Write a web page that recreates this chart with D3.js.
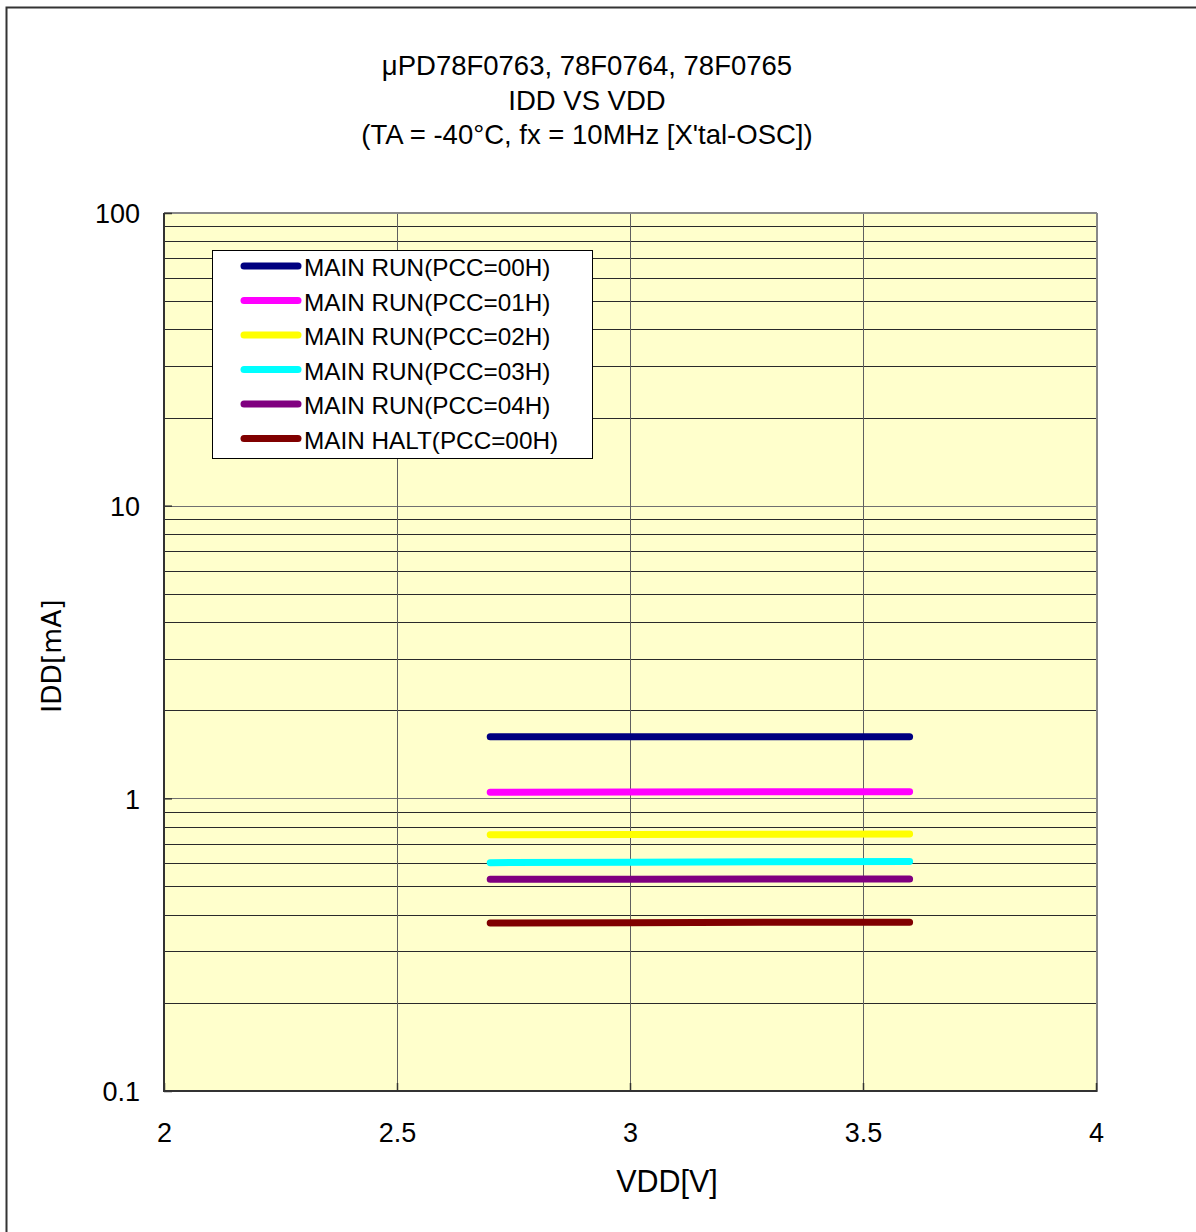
<!DOCTYPE html>
<html><head><meta charset="utf-8">
<script src="https://cdn.jsdelivr.net/npm/d3@7"></script>
<style>html,body{margin:0;padding:0;background:#fff;overflow:hidden}</style>
</head><body>
<script>
const titleLines = ["μPD78F0763, 78F0764, 78F0765", "IDD VS VDD", "(TA = -40°C, fx = 10MHz [X'tal-OSC])"];
const vdd = [2.7, 3.0, 3.3, 3.6];
const seriesNames = ["MAIN RUN(PCC=00H)", "MAIN RUN(PCC=01H)", "MAIN RUN(PCC=02H)", "MAIN RUN(PCC=03H)", "MAIN RUN(PCC=04H)", "MAIN HALT(PCC=00H)"];
const seriesColors = ["#000080", "#FF00FF", "#FFFF00", "#00FFFF", "#800080", "#800000"];
const run00 = [1.624, 1.624, 1.624, 1.624];
const run01 = [1.049, 1.051, 1.053, 1.054];
const run02 = [0.751, 0.753, 0.754, 0.755];
const run03 = [0.603, 0.605, 0.607, 0.608];
const run04 = [0.529, 0.529, 0.530, 0.530];
const halt00 = [0.375, 0.376, 0.377, 0.377];
const seriesValues = [run00, run01, run02, run03, run04, halt00];
const xTicks = [2, 2.5, 3, 3.5, 4];
const yTicks = [0.1, 1, 10, 100];
const xLabel = "VDD[V]";
const yLabel = "IDD[mA]";

const W = 1196, H = 1232;
const m = {left: 164, right: 1096, top: 213, bottom: 1091};
const svg = d3.select("body").append("svg").attr("width", W).attr("height", H);

// outer frame
svg.append("rect").attr("x", 6.5).attr("y", 7.5).attr("width", W + 20).attr("height", H + 20)
  .attr("fill", "#fff").attr("stroke", "#333").attr("stroke-width", 2);

const x = d3.scaleLinear().domain([2, 4]).range([m.left, m.right]);
const y = d3.scaleLog().domain([0.1, 100]).range([m.bottom, m.top]);

// title
svg.append("g").selectAll("text").data(titleLines).join("text")
  .attr("x", 587).attr("y", (d, i) => 75 + i * 34.5)
  .attr("text-anchor", "middle").attr("font-family", "Liberation Sans, Arial, sans-serif")
  .attr("font-size", 27.5).attr("fill", "#000").text(d => d);

// plot background
svg.append("rect").attr("x", m.left).attr("y", m.top).attr("width", m.right - m.left).attr("height", m.bottom - m.top)
  .attr("fill", "#FFFFCC");

// grid
const minor = [];
for (let e = -1; e < 2; e++) for (let k = 2; k <= 9; k++) minor.push(k * Math.pow(10, e));
const grid = svg.append("g").attr("shape-rendering", "crispEdges");
grid.selectAll("line.minor").data(minor).join("line").attr("class", "minor")
  .attr("x1", m.left).attr("x2", m.right).attr("y1", d => Math.round(y(d)) + 0.5).attr("y2", d => Math.round(y(d)) + 0.5)
  .attr("stroke", "#2a2a2a").attr("stroke-width", 1);
grid.selectAll("line.major").data(yTicks.slice(1, 3)).join("line").attr("class", "major")
  .attr("x1", m.left).attr("x2", m.right).attr("y1", d => Math.round(y(d)) + 0.5).attr("y2", d => Math.round(y(d)) + 0.5)
  .attr("stroke", "#707070").attr("stroke-width", 1);
grid.selectAll("line.vx").data(xTicks.slice(1, 4)).join("line").attr("class", "vx")
  .attr("y1", m.top).attr("y2", m.bottom).attr("x1", d => Math.round(x(d)) + 0.5).attr("x2", d => Math.round(x(d)) + 0.5)
  .attr("stroke", "#606060").attr("stroke-width", 1);

// border: top/right grey, left/bottom dark
svg.append("line").attr("x1", m.left).attr("x2", m.right + 1).attr("y1", m.top).attr("y2", m.top).attr("stroke", "#888").attr("stroke-width", 2);
svg.append("line").attr("x1", m.right + 1).attr("x2", m.right + 1).attr("y1", m.top).attr("y2", m.bottom + 1).attr("stroke", "#888").attr("stroke-width", 2);

// axes via d3
const xAxis = d3.axisBottom(x).tickValues(xTicks).tickSize(-8).tickPadding(32).tickFormat(d3.format("~g"));
const gx = svg.append("g").attr("transform", `translate(0,${m.bottom})`).call(xAxis);
gx.select(".domain").attr("stroke", "#333").attr("stroke-width", 2).attr("d", `M${m.left - 1},0H${m.right + 1}`);
gx.selectAll(".tick line").attr("stroke", "#333").attr("stroke-width", 1.5);
gx.selectAll(".tick text").attr("font-family", "Liberation Sans, Arial, sans-serif").attr("font-size", 27).attr("fill", "#000");

const yAxis = d3.axisLeft(y).tickValues(yTicks).tickSize(-8).tickPadding(24).tickFormat(d => d3.format("~g")(d));
const gy = svg.append("g").attr("transform", `translate(${m.left},0)`).call(yAxis);
gy.select(".domain").attr("stroke", "#333").attr("stroke-width", 2).attr("d", `M0,${m.top}V${m.bottom + 1}`);
gy.selectAll(".tick line").attr("stroke", "#333").attr("stroke-width", 1.5);
gy.selectAll(".tick text").attr("font-family", "Liberation Sans, Arial, sans-serif").attr("font-size", 27).attr("fill", "#000").attr("dy", "0.36em");

// axis labels
svg.append("text").attr("x", 667).attr("y", 1192).attr("text-anchor", "middle")
  .attr("font-family", "Liberation Sans, Arial, sans-serif").attr("font-size", 30.5).attr("fill", "#000").text(xLabel);
svg.append("text").attr("transform", "translate(61,656) rotate(-90)").attr("text-anchor", "middle")
  .attr("font-family", "DejaVu Sans, sans-serif").attr("font-size", 26.5).attr("fill", "#000").text(yLabel);

// series lines
const line = d3.line().x((d, i) => x(vdd[i])).y(d => y(d));
svg.append("g").selectAll("path").data(seriesValues).join("path")
  .attr("d", d => line(d)).attr("fill", "none")
  .attr("stroke", (d, i) => seriesColors[i]).attr("stroke-width", 7)
  .attr("stroke-linecap", "round").attr("stroke-linejoin", "round");

// legend
const lg = svg.append("g");
lg.append("rect").attr("x", 212.5).attr("y", 250.5).attr("width", 380).attr("height", 208)
  .attr("fill", "#fff").attr("stroke", "#000").attr("stroke-width", 1);
const items = lg.selectAll("g.item").data(seriesNames).join("g").attr("class", "item")
  .attr("transform", (d, i) => `translate(0,${266 + i * 34.5})`);
items.append("line").attr("x1", 244).attr("x2", 298).attr("y1", 0).attr("y2", 0)
  .attr("stroke", (d, i) => seriesColors[i]).attr("stroke-width", 7).attr("stroke-linecap", "round");
items.append("text").attr("x", 304).attr("y", 1.5).attr("dy", "0.36em")
  .attr("font-family", "Liberation Sans, Arial, sans-serif").attr("font-size", 24.3).attr("fill", "#000").text(d => d);
</script>
</body></html>
